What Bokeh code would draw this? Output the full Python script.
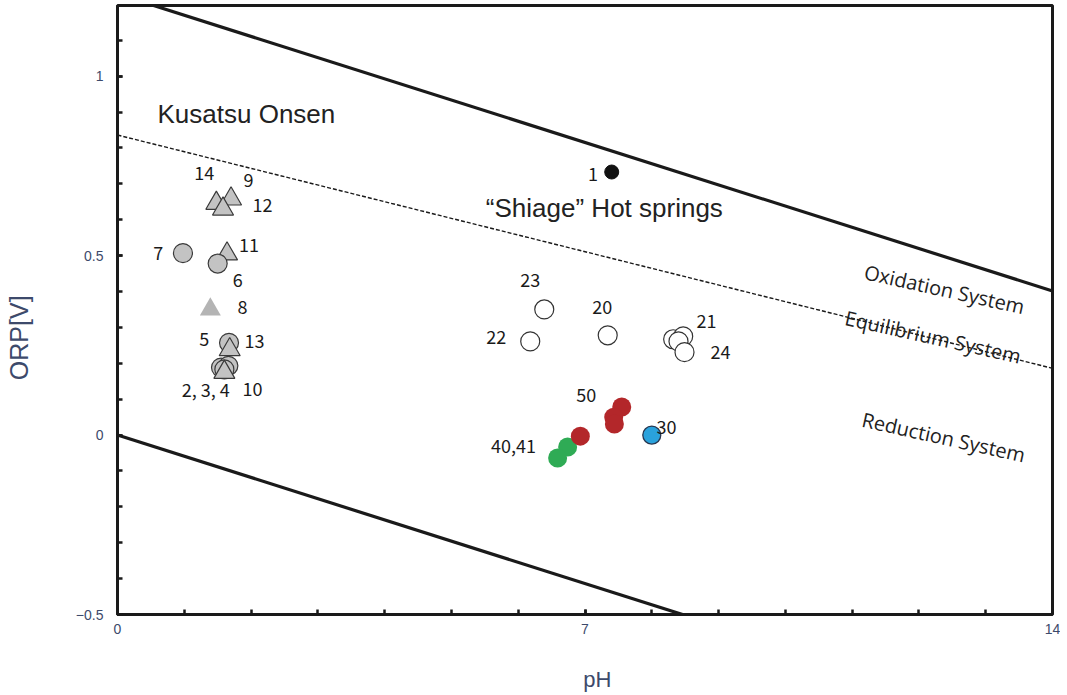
from bokeh.plotting import figure
from bokeh.models import FixedTicker, Label, ColumnDataSource
from bokeh.embed import file_html
from bokeh.resources import INLINE
from bokeh.core.properties import value
import math

# ---------------- data ----------------
# Kusatsu Onsen samples (draw order)
kus_id = ["14", "9", "12", "7", "11", "6", "8", "5", "13", "2", "3", "4", "10"]
kus_ph = [1.48, 1.70, 1.58, 0.98, 1.64, 1.50, 1.39, 1.67, 1.68, 1.55, 1.66, 1.60, 1.60]
kus_orp = [0.646, 0.658, 0.630, 0.507, 0.505, 0.478, 0.350, 0.257, 0.238, 0.188, 0.193, 0.183, 0.175]
kus_shape = ["triangle", "triangle", "triangle", "circle", "triangle", "circle", "triangle",
             "circle", "triangle", "circle", "circle", "circle", "triangle"]
kus_outlined = [True, True, True, True, True, True, False, True, True, True, True, True, True]

# Shiage hot springs samples
shi_id = ["23", "22", "20", "21", "21", "21", "24"]
shi_ph = [6.39, 6.18, 7.34, 8.32, 8.47, 8.40, 8.49]
shi_orp = [0.350, 0.261, 0.278, 0.267, 0.275, 0.261, 0.231]

s1_ph = [7.40]
s1_orp = [0.733]

s50_ph = [7.55, 7.43, 7.44, 6.93]
s50_orp = [0.078, 0.050, 0.031, -0.003]

s40_ph = [6.74, 6.59]
s40_orp = [-0.033, -0.064]

s30_ph = [8.00]
s30_orp = [0.000]

# boundary lines (pH, ORP endpoints)
upper_ph = [0.0, 14.0]
upper_orp = [1.229, 1.229 - 0.0591 * 14]
lower_ph = [0.0, 14.0]
lower_orp = [0.0, -0.0591 * 14]
equil_ph = [0.0, 14.0]
equil_orp = [0.836, 0.186]

# sample number labels
lab_text = ["14", "9", "12", "11", "7", "6", "8", "5", "13", "2, 3, 4", "10",
            "1", "23", "22", "20", "21", "24", "50", "40,41", "30"]
lab_ph = [1.30, 1.96, 2.17, 1.97, 0.61, 1.80, 1.87, 1.30, 2.05, 1.32, 2.02,
          7.12, 6.18, 5.67, 7.26, 8.82, 9.03, 7.02, 5.93, 8.22]
lab_orp = [0.730, 0.711, 0.642, 0.531, 0.506, 0.431, 0.356, 0.267, 0.261, 0.128, 0.128,
           0.728, 0.433, 0.272, 0.358, 0.319, 0.231, 0.111, -0.031, 0.022]

x_ticks = [0, 7, 14]
y_ticks = [-0.5, 0, 0.5, 1]

# ---------------- figure ----------------
p = figure(width=1060, height=694, x_range=(0, 14), y_range=(-0.5, 1.197),
           output_backend="svg", toolbar_location=None,
           min_border_left=117, min_border_right=8, min_border_top=5, min_border_bottom=80)
p.background_fill_color = "white"
p.border_fill_color = "white"
p.grid.visible = False
p.outline_line_color = "#1a1a1a"
p.outline_line_width = 3

tick_col = "#3d4a6b"
for ax in (p.xaxis[0], p.yaxis[0]):
    ax.axis_line_color = "#1a1a1a"
    ax.axis_line_width = 3
    ax.major_tick_in = 5
    ax.major_tick_out = 0
    ax.minor_tick_in = 5
    ax.minor_tick_out = 0
    ax.major_tick_line_width = 2.5
    ax.minor_tick_line_width = 2.5
    ax.major_tick_line_color = "#1a1a1a"
    ax.minor_tick_line_color = "#1a1a1a"
    ax.major_label_text_font = "Liberation Sans"
    ax.major_label_text_font_size = "14px"
    ax.major_label_text_color = tick_col
    ax.axis_label_text_font = "Liberation Sans"
    ax.axis_label_text_font_style = "normal"
    ax.axis_label_text_color = tick_col

p.xaxis.ticker = FixedTicker(ticks=x_ticks, minor_ticks=list(range(1, 14)))
p.yaxis.ticker = FixedTicker(ticks=y_ticks,
                             minor_ticks=[round(-0.5 + 0.1 * i, 1) for i in range(17)])
p.yaxis.major_label_overrides = {-0.5: "\u22120.5", 0: "0", 0.5: "0.5", 1: "1"}
p.xaxis.major_label_standoff = 9
p.yaxis.major_label_standoff = 14

NB = "\u00a0"
p.yaxis.axis_label = "ORP[V]" + NB * 8
p.yaxis.axis_label_text_font_size = "25px"
p.yaxis.axis_label_standoff = 40
p.xaxis.axis_label = NB * 4 + "pH"
p.xaxis.axis_label_text_font_size = "22px"
p.xaxis.axis_label_standoff = 30

# boundary lines
p.line(upper_ph, upper_orp, line_color="#1a1a1a", line_width=3.2)
p.line(lower_ph, lower_orp, line_color="#1a1a1a", line_width=3.2)
p.line(equil_ph, equil_orp, line_color="#1a1a1a", line_width=1.4, line_dash="4 2")

# Kusatsu samples
kus_src = ColumnDataSource(dict(
    x=kus_ph, y=kus_orp, marker=kus_shape,
    size=[21 if s == "triangle" else 19 for s in kus_shape],
    fill=["#b4b4b4" if not o else "#c3c3c3" for o in kus_outlined],
    line=["#3a3a3a" if o else None for o in kus_outlined],
))
p.scatter("x", "y", marker="marker", size="size", source=kus_src,
          fill_color="fill", line_color="line", line_width=1.2)

# Shiage samples
p.scatter(shi_ph, shi_orp, marker="circle", size=19, fill_color="white",
          line_color="#333333", line_width=1.2)
p.scatter(s1_ph, s1_orp, marker="circle", size=14, fill_color="#111111", line_color="#111111")
p.scatter(s40_ph, s40_orp, marker="circle", size=19, fill_color="#2fab55", line_color=None)
p.scatter(s50_ph, s50_orp, marker="circle", size=19, fill_color="#b3272a", line_color=None)
p.scatter(s30_ph, s30_orp, marker="circle", size=18, fill_color="#2aa2dc",
          line_color="#27364f", line_width=1.3)

# sample numbers
p.text(lab_ph, lab_orp, text=lab_text, text_align="center", text_baseline="middle",
       text_font=value("Noto Sans CJK JP"), text_font_size="18px", text_color="#1a1a1a")

# group / region titles
p.add_layout(Label(x=1.93, y=0.894, text="Kusatsu Onsen", text_align="center",
                   text_baseline="middle", text_font="Liberation Sans",
                   text_font_size="26px", text_color="#222222"))
p.add_layout(Label(x=7.29, y=0.633, text="\u201cShiage\u201d Hot springs", text_align="center",
                   text_baseline="middle", text_font="Liberation Sans",
                   text_font_size="26px", text_color="#222222"))

ang = -12.5 * math.pi / 180
for txt, xx, yy in [("Oxidation System", 12.38, 0.406),
                    ("Equilibrium  System", 12.25, 0.272),
                    ("Reduction System", 12.37, -0.006)]:
    p.add_layout(Label(x=xx, y=yy, text=txt, angle=ang, text_align="center",
                       text_baseline="middle", text_font="Open Sans",
                       text_font_size="20px", text_color="#222222"))

open("out.html", "w").write(file_html(p, INLINE))
